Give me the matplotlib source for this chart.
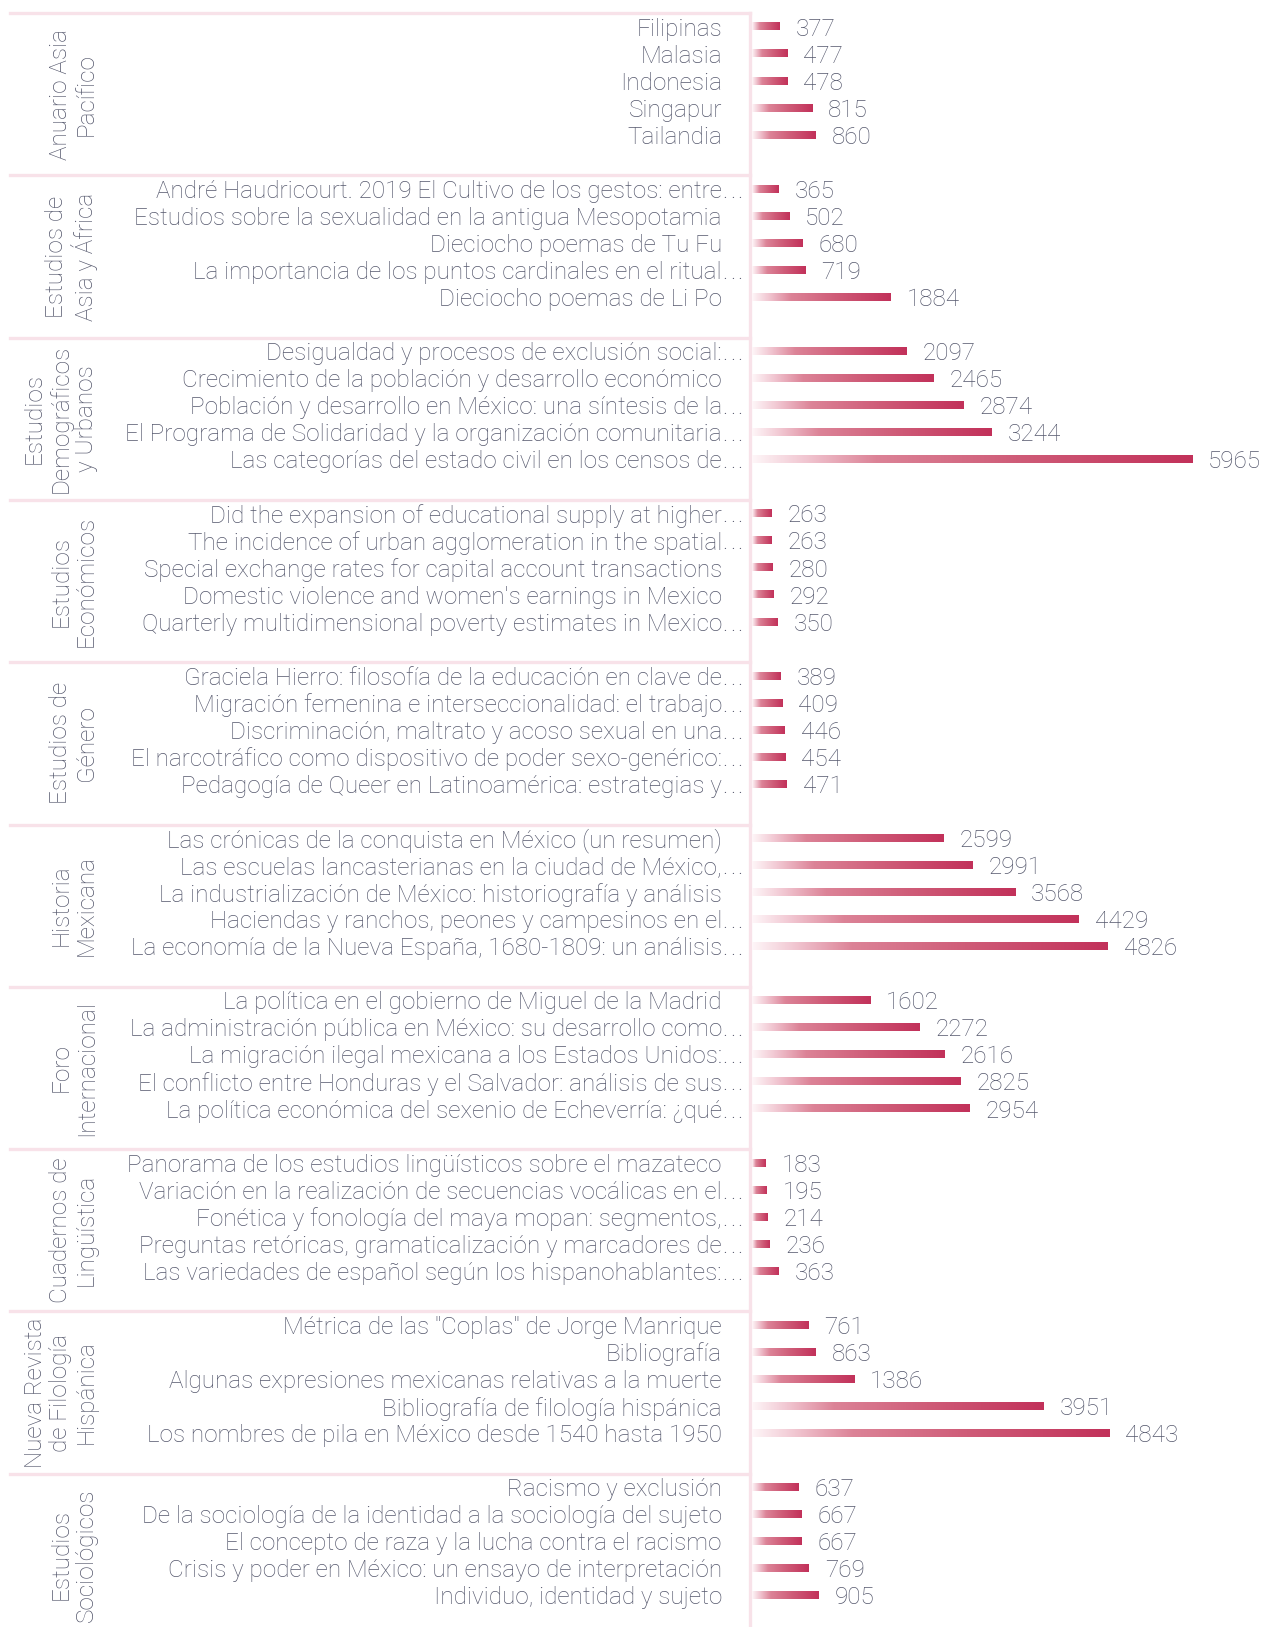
import numpy as np
import matplotlib
matplotlib.use("Agg")
import matplotlib.pyplot as plt
from matplotlib.colors import LinearSegmentedColormap
from matplotlib.lines import Line2D
from matplotlib.transforms import blended_transform_factory

# Revistas (grupos) y sus 5 articulos mas consultados
journals = [
    "Anuario Asia\nPacífico",
    "Estudios de\nAsia y África",
    "Estudios\nDemográficos\ny Urbanos",
    "Estudios\nEconómicos",
    "Estudios de\nGénero",
    "Historia\nMexicana",
    "Foro\nInternacional",
    "Cuadernos de\nLingüística",
    "Nueva Revista\nde Filología\nHispánica",
    "Estudios\nSociológicos",
]

titles_asia_pacifico = ["Filipinas", "Malasia", "Indonesia", "Singapur", "Tailandia"]
values_asia_pacifico = [377, 477, 478, 815, 860]

titles_asia_africa = [
    "André Haudricourt. 2019 El Cultivo de los gestos: entre...",
    "Estudios sobre la sexualidad en la antigua Mesopotamia",
    "Dieciocho poemas de Tu Fu",
    "La importancia de los puntos cardinales en el ritual...",
    "Dieciocho poemas de Li Po",
]
values_asia_africa = [365, 502, 680, 719, 1884]

titles_demograficos = [
    "Desigualdad y procesos de exclusión social:...",
    "Crecimiento de la población y desarrollo económico",
    "Población y desarrollo en México: una síntesis de la...",
    "El Programa de Solidaridad y la organización comunitaria...",
    "Las categorías del estado civil en los censos de...",
]
values_demograficos = [2097, 2465, 2874, 3244, 5965]

titles_economicos = [
    "Did the expansion of educational supply at higher...",
    "The incidence of urban agglomeration in the spatial...",
    "Special exchange rates for capital account transactions",
    "Domestic violence and women's earnings in Mexico",
    "Quarterly multidimensional poverty estimates in Mexico...",
]
values_economicos = [263, 263, 280, 292, 350]

titles_genero = [
    "Graciela Hierro: filosofía de la educación en clave de...",
    "Migración femenina e interseccionalidad: el trabajo...",
    "Discriminación, maltrato y acoso sexual en una...",
    "El narcotráfico como dispositivo de poder sexo-genérico:...",
    "Pedagogía de Queer en Latinoamérica: estrategias y...",
]
values_genero = [389, 409, 446, 454, 471]

titles_historia = [
    "Las crónicas de la conquista en México (un resumen)",
    "Las escuelas lancasterianas en la ciudad de México,...",
    "La industrialización de México: historiografía y análisis",
    "Haciendas y ranchos, peones y campesinos en el...",
    "La economía de la Nueva España, 1680-1809: un análisis...",
]
values_historia = [2599, 2991, 3568, 4429, 4826]

titles_foro = [
    "La política en el gobierno de Miguel de la Madrid",
    "La administración pública en México: su desarrollo como...",
    "La migración ilegal mexicana a los Estados Unidos:...",
    "El conflicto entre Honduras y el Salvador: análisis de sus...",
    "La política económica del sexenio de Echeverría: ¿qué...",
]
values_foro = [1602, 2272, 2616, 2825, 2954]

titles_linguistica = [
    "Panorama de los estudios lingüísticos sobre el mazateco",
    "Variación en la realización de secuencias vocálicas en el...",
    "Fonética y fonología del maya mopan: segmentos,...",
    "Preguntas retóricas, gramaticalización y marcadores de...",
    "Las variedades de español según los hispanohablantes:...",
]
values_linguistica = [183, 195, 214, 236, 363]

titles_filologia = [
    'Métrica de las "Coplas" de Jorge Manrique',
    "Bibliografía",
    "Algunas expresiones mexicanas relativas a la muerte",
    "Bibliografía de filología hispánica",
    "Los nombres de pila en México desde 1540 hasta 1950",
]
values_filologia = [761, 863, 1386, 3951, 4843]

titles_sociologicos = [
    "Racismo y exclusión",
    "De la sociología de la identidad a la sociología del sujeto",
    "El concepto de raza y la lucha contra el racismo",
    "Crisis y poder en México: un ensayo de interpretación",
    "Individuo, identidad y sujeto",
]
values_sociologicos = [637, 667, 667, 769, 905]

group_titles = [titles_asia_pacifico, titles_asia_africa, titles_demograficos,
                titles_economicos, titles_genero, titles_historia, titles_foro,
                titles_linguistica, titles_filologia, titles_sociologicos]
group_values = [values_asia_pacifico, values_asia_africa, values_demograficos,
                values_economicos, values_genero, values_historia, values_foro,
                values_linguistica, values_filologia, values_sociologicos]

TEXT = "#55586d"
SEP = "#f8e2e9"
FONT = "Roboto"
FS = 17.5

# layout (pixels, figure is 1262 x 1627 at 100 dpi)
W, H = 1262, 1627
row_px = 27.05
top_px = 13
rows_per_group = 6
bar_x0_px = 752
bar_max_px = 440
label_x_px = 722
sep_x_px = 750

cmap = LinearSegmentedColormap.from_list(
    "bar", [(0.0, "#fef6f8"), (0.12, "#f1c6d1"), (0.28, "#dc8397"),
            (0.6, "#cf5c78"), (1.0, "#c2315a")])
grad = np.linspace(0, 1, 256).reshape(1, -1)

fig = plt.figure(figsize=(W / 100, H / 100), dpi=100)
ax = fig.add_axes([0, 0, 1, 1])
ax.axis("off")

vmax = max(max(v) for v in group_values)
units_per_px = vmax / bar_max_px
lab_tr = blended_transform_factory(fig.transFigure, ax.transData)
txt = dict(fontsize=FS, color=TEXT, family=FONT, weight="light")

for g, (titles, values) in enumerate(zip(group_titles, group_values)):
    for i, (t, v) in enumerate(zip(titles, values)):
        r = g * rows_per_group + i
        ax.imshow(grad, cmap=cmap, aspect="auto", interpolation="bilinear",
                  extent=(0, v, r + 0.145, r - 0.145), zorder=2)
        ax.annotate(str(v), (v, r), xytext=(11.5, 0), textcoords="offset points",
                    va="center_baseline", ha="left", **txt)
        truncated = t.endswith("...")
        body = t[:-3] if truncated else t
        ax.text(label_x_px / W, r, body, transform=lab_tr, ha="right",
                va="center_baseline", **txt)
        if truncated:
            # wide-spaced ellipsis like the original
            for k in range(3):
                ax.annotate(".", (label_x_px / W, r), xycoords=lab_tr,
                            xytext=(0.3 + k * 5.3, 0), textcoords="offset points",
                            ha="left", va="center_baseline", **txt)

    # separator above each group
    y_sep = g * rows_per_group - 0.5
    ax.add_line(Line2D([10 / W, sep_x_px / W], [y_sep, y_sep], transform=lab_tr,
                       color=SEP, lw=2.4, zorder=1))
    ax.text(98 / W, g * rows_per_group + (rows_per_group - 1) / 2, journals[g],
            transform=lab_tr, rotation=90, ha="right", va="center",
            multialignment="center", linespacing=1.14, **txt)

n_rows = len(journals) * rows_per_group
ax.add_line(Line2D([sep_x_px / W, sep_x_px / W], [-0.5, n_rows], transform=lab_tr,
                   color=SEP, lw=2.4, zorder=1))

ax.set_xlim(-bar_x0_px * units_per_px, (W - bar_x0_px) * units_per_px)
ax.set_ylim((H - top_px) / row_px - 0.5, -top_px / row_px - 0.5)

fig.savefig("out.png", dpi=100, facecolor="white")
